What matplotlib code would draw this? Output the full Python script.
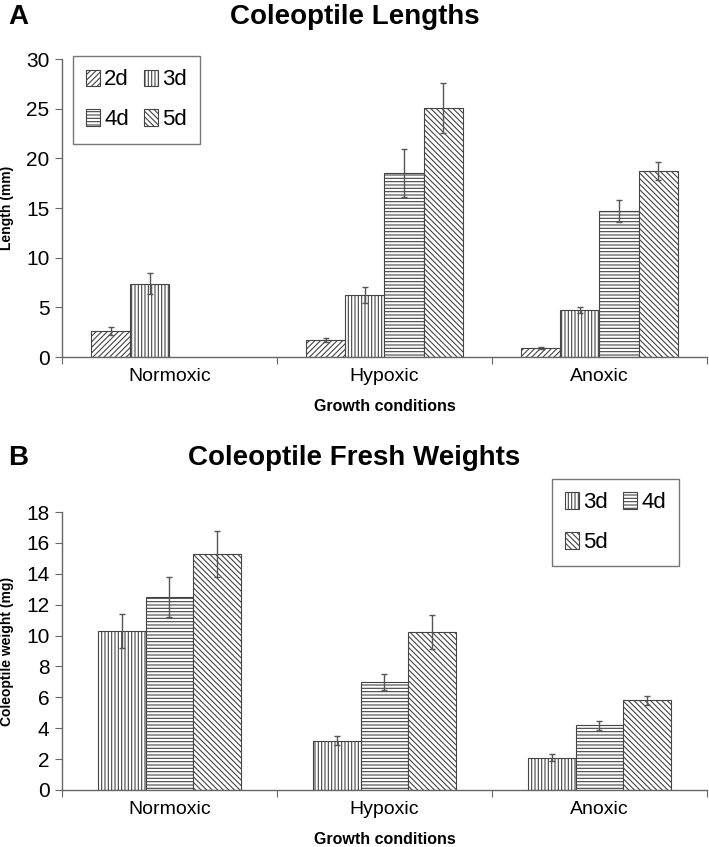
import matplotlib
matplotlib.use("Agg")
import matplotlib.pyplot as plt
import numpy as np

plt.rcParams['font.family'] = ['Liberation Sans', 'DejaVu Sans']
plt.rcParams['hatch.linewidth'] = 0.8
plt.rcParams['hatch.color'] = '#333333'

categories = ["Normoxic", "Hypoxic", "Anoxic"]

# Panel A: coleoptile lengths (mm)
len_series = ["2d", "3d", "4d", "5d"]
len_vals = {
    "2d": [2.6, 1.7, 0.9],
    "3d": [7.4, 6.2, 4.7],
    "4d": [np.nan, 18.5, 14.7],
    "5d": [np.nan, 25.1, 18.7],
}
len_err = {
    "2d": [0.4, 0.2, 0.1],
    "3d": [1.1, 0.8, 0.3],
    "4d": [np.nan, 2.4, 1.1],
    "5d": [np.nan, 2.5, 0.9],
}

# Panel B: coleoptile fresh weights (mg)
wt_series = ["3d", "4d", "5d"]
wt_vals = {
    "3d": [10.3, 3.2, 2.1],
    "4d": [12.5, 7.0, 4.2],
    "5d": [15.3, 10.2, 5.8],
}
wt_err = {
    "3d": [1.1, 0.3, 0.2],
    "4d": [1.3, 0.5, 0.3],
    "5d": [1.5, 1.1, 0.3],
}

hatches = {"2d": "//////", "3d": "|||||", "4d": "-----", "5d": "\\\\\\\\\\\\"}

fig = plt.figure(figsize=(7.09, 8.47), dpi=100)

def draw(ax, series, vals, errs, width, ylim, yticks, ylabel, legend_loc, legend_bbox, order):
    x = np.arange(len(categories)) + 0.5
    n = len(series)
    handles = {}
    for i, s in enumerate(series):
        off = (i - (n - 1) / 2) * width
        v = np.array(vals[s], dtype=float)
        e = np.array(errs[s], dtype=float)
        b = ax.bar(x + off, v, width, color='white', edgecolor='#444444', linewidth=0.8,
                   hatch=hatches[s], label=s, zorder=2)
        handles[s] = b
        ax.errorbar(x + off, v, yerr=e, fmt='none', ecolor='#555555', elinewidth=1.0,
                    capsize=2.5, capthick=1.0, zorder=3)
    ax.set_xlim(0, 3)
    ax.set_ylim(*ylim)
    ax.set_yticks(yticks)
    ax.set_xticks([0, 1, 2, 3])
    ax.set_xticklabels([])
    ax.set_xticks(x, minor=True)
    ax.set_xticklabels(categories, minor=True, fontsize=14)
    ax.tick_params(axis='x', which='minor', length=0, pad=8)
    ax.tick_params(axis='x', which='major', length=5, direction='out', color='#666666')
    ax.tick_params(axis='y', length=5, direction='out', color='#666666', labelsize=15, pad=4)
    for sp in ['top', 'right']:
        ax.spines[sp].set_visible(False)
    for sp in ['left', 'bottom']:
        ax.spines[sp].set_color('#666666')
        ax.spines[sp].set_linewidth(1.0)
    ax.set_xlabel("Growth conditions", fontsize=11.5, fontweight='bold', labelpad=10)
    ax.set_ylabel(ylabel, fontsize=10, fontweight='bold', labelpad=6)
    leg = ax.legend([handles[s] for s in order], order, ncol=2, loc=legend_loc,
                    bbox_to_anchor=legend_bbox, borderaxespad=0,
                    prop={'size': 16},
                    handlelength=0.6, handleheight=0.75, handletextpad=0.2,
                    columnspacing=0.7, labelspacing=0.85, borderpad=0.6,
                    fancybox=False, frameon=True, edgecolor='#555555')
    leg.get_frame().set_linewidth(1.0)
    return ax

axA = fig.add_axes([0.0874, 0.5785, 0.9096, 0.3518])
draw(axA, len_series, len_vals, len_err, 0.182, (0, 30), range(0, 31, 5),
     "Length (mm)", 'upper left', (0.017, 1.01), ["2d", "4d", "3d", "5d"])
axA.yaxis.set_label_coords(-0.075, 0.5)

axB = fig.add_axes([0.0874, 0.0673, 0.9096, 0.3282])
draw(axB, wt_series, wt_vals, wt_err, 0.222, (0, 18), range(0, 19, 2),
     "Coleoptile weight (mg)", 'upper right', (0.957, 1.119), ["3d", "5d", "4d"])
axB.yaxis.set_label_coords(-0.075, 0.5)

fig.text(0.5, 1 - 17 / 847, "Coleoptile Lengths", ha='center', va='center',
         fontsize=20, fontweight='bold')
fig.text(0.012, 1 - 17 / 847, "A", ha='left', va='center', fontsize=20, fontweight='bold')
fig.text(0.5, 1 - 458 / 847, "Coleoptile Fresh Weights", ha='center', va='center',
         fontsize=20, fontweight='bold')
fig.text(0.012, 1 - 458 / 847, "B", ha='left', va='center', fontsize=20, fontweight='bold')

fig.savefig("out.png", dpi=100)
